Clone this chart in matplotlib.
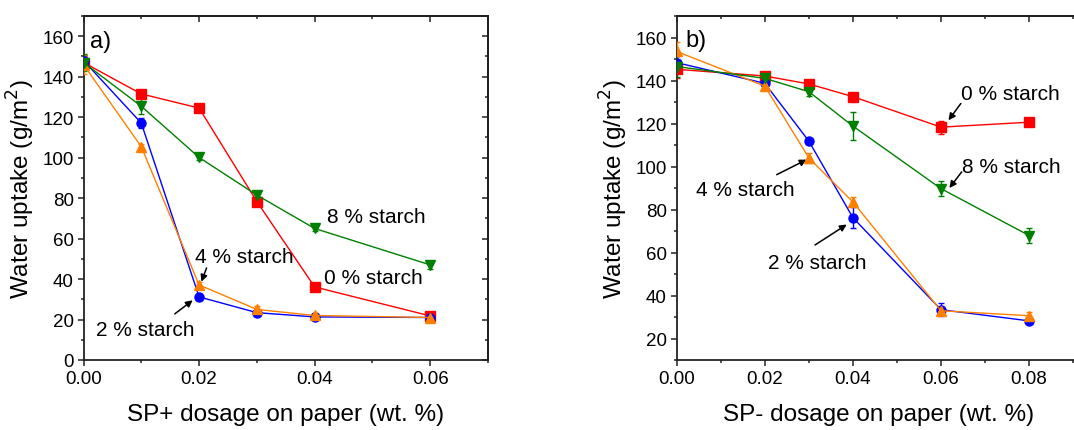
import matplotlib
matplotlib.use("Agg")
import matplotlib.pyplot as plt
from matplotlib.ticker import MultipleLocator

plt.rcParams['font.family'] = ['Liberation Sans', 'DejaVu Sans']

# ---- Panel a: SP+ dosage ----
dose_a = [0.0, 0.01, 0.02, 0.03, 0.04, 0.06]
a_s0 = [147, 131.5, 124.5, 78.3, 36.1, 21.8]
a_s0_err = [3, 1.5, 1.2, 2, 1.5, 1.5]
a_s2 = [148, 117.1, 31.2, 23.4, 21.3, 21.0]
a_s2_err = [2.5, 2.5, 1.5, 1.2, 1.2, 1.2]
a_s4 = [146, 105.4, 37.1, 25.0, 22.0, 21.0]
a_s4_err = [4.5, 1.2, 1.5, 1.5, 1.2, 1.2]
a_s8 = [147, 125.4, 100.1, 81.5, 65.0, 47.0]
a_s8_err = [4, 4, 1.2, 1.5, 1.2, 2]

# ---- Panel b: SP- dosage ----
dose_b = [0.0, 0.02, 0.03, 0.04, 0.06, 0.08]
b_s0 = [145.2, 142.1, 138.4, 132.5, 118.3, 120.6]
b_s0_err = [4, 1.2, 1.2, 1.2, 3, 1]
b_s2 = [148.3, 138.7, 111.8, 76.2, 33.4, 28.2]
b_s2_err = [3, 2, 1.2, 5, 3, 1.2]
b_s4 = [153.5, 137.4, 104.0, 83.5, 32.9, 30.6]
b_s4_err = [4.5, 2, 2.5, 2.5, 2, 1.5]
b_s8 = [146.5, 141.0, 134.8, 118.8, 89.7, 67.9]
b_s8_err = [5, 1.5, 2, 6.5, 3.5, 3.5]

series_labels = ["0 % starch", "2 % starch", "4 % starch", "8 % starch"]
colors = ["#ff0000", "#0000ff", "#ff8000", "#008000"]
markers = ["s", "o", "^", "v"]
marker_sizes = [6.5, 6.5, 7.5, 7.5]

fig = plt.figure(figsize=(10.74, 4.31), dpi=100)
ax_a = fig.add_axes([83.5 / 1074, 70 / 431, 404.5 / 1074, 344 / 431])
# panel b runs past the right edge of the canvas
B_WIDTH_PX = 404
ax_b = fig.add_axes([676.7 / 1074, 70 / 431, B_WIDTH_PX / 1074, 344 / 431])


def draw_series(ax, x, ys, errs):
    for y, e, c, m, ms in zip(ys, errs, colors, markers, marker_sizes):
        ax.errorbar(x, y, yerr=e, color=c, marker=m, markersize=ms,
                    linewidth=1.0, elinewidth=1.0, capsize=2.5, capthick=1.0,
                    zorder=3)


def style_axes(ax, xmax, ymin, xlabel):
    ax.set_xlim(0, xmax)
    ax.set_ylim(ymin, 170)
    ax.xaxis.set_major_locator(MultipleLocator(0.02))
    ax.xaxis.set_minor_locator(MultipleLocator(0.01))
    ax.yaxis.set_major_locator(MultipleLocator(20))
    ax.yaxis.set_minor_locator(MultipleLocator(10))
    ax.xaxis.set_major_formatter(plt.FormatStrFormatter('%.2f'))
    for s in ax.spines.values():
        s.set_linewidth(1.3)
        s.set_color("#222222")
    ax.tick_params(axis='both', which='both', direction='out',
                   labelsize=13.5, width=1.1, color="#222222", pad=3)
    ax.tick_params(which='major', length=4)
    ax.tick_params(which='minor', length=2.2)
    # mirrored ticks on top/right pointing inward, no labels
    top = ax.secondary_xaxis('top')
    top.xaxis.set_major_locator(MultipleLocator(0.02))
    top.xaxis.set_minor_locator(MultipleLocator(0.01))
    top.tick_params(which='both', direction='in', labeltop=False, width=1.1,
                    color="#222222")
    top.tick_params(which='major', length=4)
    top.tick_params(which='minor', length=2.2)
    top.spines['top'].set_linewidth(1.3)
    right = ax.secondary_yaxis('right')
    right.yaxis.set_major_locator(MultipleLocator(20))
    right.yaxis.set_minor_locator(MultipleLocator(10))
    right.tick_params(which='both', direction='in', labelright=False, width=1.1,
                      color="#222222")
    right.tick_params(which='major', length=4)
    right.tick_params(which='minor', length=2.2)
    right.spines['right'].set_linewidth(1.3)
    ax.set_xlabel(xlabel, fontsize=17.5, labelpad=12)
    ax.set_ylabel("Water uptake (g/m$^2$)", fontsize=17.5, labelpad=4)


# Panel a
draw_series(ax_a, dose_a, [a_s0, a_s2, a_s4, a_s8],
            [a_s0_err, a_s2_err, a_s4_err, a_s8_err])
style_axes(ax_a, 0.07, 0, "SP+ dosage on paper (wt. %)")
ax_a.text(0.0012, 157.4, "a)", fontsize=17, va='center', ha='left')
arrow = dict(arrowstyle='-|>', color='black', lw=1.1, mutation_scale=10,
             shrinkA=0, shrinkB=0)
ax_a.text(0.0421, 70.8, series_labels[3], fontsize=15, va='center')
ax_a.text(0.0417, 40.6, series_labels[0], fontsize=15, va='center')
ax_a.text(0.0193, 51.0, series_labels[2], fontsize=15, va='center')
ax_a.annotate("", xy=(0.0204, 38.7), xytext=(0.0213, 45.5), arrowprops=arrow)
ax_a.text(0.0021, 15.3, series_labels[1], fontsize=15, va='center')
ax_a.annotate("", xy=(0.0189, 29.5), xytext=(0.0158, 22.8), arrowprops=arrow)

# Panel b
draw_series(ax_b, dose_b, [b_s0, b_s2, b_s4, b_s8],
            [b_s0_err, b_s2_err, b_s4_err, b_s8_err])
style_axes(ax_b, 0.02 * B_WIDTH_PX / 88.1, 10, "SP- dosage on paper (wt. %)")
ax_b.text(0.002, 158.9, "b)", fontsize=17, va='center', ha='left')
ax_b.text(0.0645, 134.0, series_labels[0], fontsize=15, va='center')
ax_b.annotate("", xy=(0.0617, 121.5), xytext=(0.0645, 129.3), arrowprops=arrow)
ax_b.text(0.0647, 99.8, series_labels[3], fontsize=15, va='center')
ax_b.annotate("", xy=(0.0619, 90.0), xytext=(0.0647, 97.5), arrowprops=arrow)
ax_b.text(0.0043, 89.3, series_labels[2], fontsize=15, va='center')
ax_b.annotate("", xy=(0.0295, 103.2), xytext=(0.0227, 96.2), arrowprops=arrow)
ax_b.text(0.0207, 55.5, series_labels[1], fontsize=15, va='center')
ax_b.annotate("", xy=(0.0386, 73.0), xytext=(0.0314, 63.5), arrowprops=arrow)

fig.savefig("out.png", dpi=100)
